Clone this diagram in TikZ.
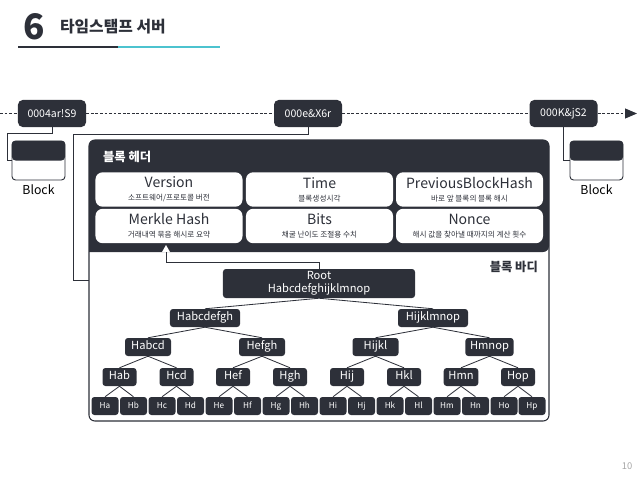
\documentclass[tikz,border=0pt]{standalone}
\usepackage{fontspec}
\setmainfont{Noto Sans CJK KR}
\usetikzlibrary{arrows.meta}
\definecolor{slate}{HTML}{2D3039}
\definecolor{tealline}{HTML}{4CC3CF}
\newcommand{\fsz}[2]{\fontsize{#1}{#2}\selectfont}

\begin{document}
\begin{tikzpicture}[x=0.03cm, y=-0.03cm,
  hashbox/.style={fill=slate, text=white, rounded corners=4pt, minimum width=2.04cm, minimum height=0.81cm, inner sep=0pt, font=\fsz{9}{11}},
  chain/.style={slate, line width=0.8pt, dash pattern=on 2.4pt off 1.5pt},
  link/.style={slate, line width=0.8pt},
  blockicon/.style={draw=slate, line width=0.8pt, fill=white, rounded corners=3pt, minimum width=1.59cm, minimum height=1.17cm, inner sep=0pt,
    path picture={\fill[slate] (path picture bounding box.north west) rectangle (path picture bounding box.east);}},
  cell/.style={fill=white, text=slate, rounded corners=6pt, minimum width=4.41cm, minimum height=1.03cm, inner sep=0pt, align=center, font=\fsz{6.5}{11}},
  tnode/.style={fill=slate, text=white, rounded corners=2.5pt, minimum height=0.54cm, inner xsep=4pt, inner ysep=0pt, text height=7pt, text depth=2pt, font=\fsz{9.5}{11}},
  leaf/.style={tnode, minimum width=0.81cm, inner xsep=1pt, text height=5pt, text depth=1.5pt, font=\fsz{7}{8}},
  branch/.style={slate, line width=0.7pt}]
  \useasboundingbox (0,0) rectangle (638,479);

  % Title
  \node[font=\bfseries\fsz{30}{30}, text=slate] (num) at (34,27) {6};
  \node[anchor=west, font=\bfseries\fsz{13.5}{15}, text=slate] (title) at (56,27) {타임스탬프 서버};
  \draw[slate, line width=2.5pt] (18,47) -- (118,47);
  \draw[tealline, line width=2.5pt] (118,47) -- (220,47);

  % Hash chain
  \coordinate (cstart) at (0,113.5);
  \coordinate (cend) at (637,113.5);
  \node[hashbox] (h1) at (52,113.5) {0004ar!S9};
  \node[hashbox] (h2) at (308,113.5) {000e\&X6r};
  \node[hashbox] (h3) at (563.5,113.5) {000K\&jS2};
  \draw[chain] (cstart) -- (h1) (h1) -- (h2) (h2) -- (h3);
  \draw[chain, -{Triangle[length=0.36cm, width=0.3cm]}] (h3) -- (cend);

  % Side blocks
  \node[blockicon] (blk1) at (38.5,160.5) {};
  \node[font=\fsz{10.5}{12}, text=black] (blk1lab) at (38.5,190) {Block};
  \node[blockicon] (blk3) at (596.5,160.5) {};
  \node[font=\fsz{10.5}{12}, text=black] (blk3lab) at (596.5,190) {Block};
  \draw[link] (h1.south) |- (7,133) |- (blk1.west);
  \draw[link] (h3.south) |- (blk3.west);

  % Block box: header + body
  \draw[slate, line width=0.9pt, rounded corners=5pt] (89,140) rectangle (549,421);
  \fill[slate] (89,252) [rounded corners=5pt] |- (549,140) -- (549,252) [sharp corners] -- cycle;
  \node[anchor=west, font=\bfseries\fsz{10.5}{12}, text=white] (headlab) at (99,157) {블록 헤더};
  \node[anchor=east, font=\bfseries\fsz{10.5}{12}, text=slate] (bodylab) at (542,267) {블록 바디};
  \coordinate (bodyin) at (89,280);
  \draw[link] (h2.south) |- (73,134) |- (bodyin);

  % Header fields
  \node[cell] (ver) at (169,189.5) {{\fsz{12}{11}Version}\\소프트웨어/프로토콜 버전};
  \node[cell] (time) at (319.5,189.5) {{\fsz{12}{11}Time}\\블록생성시각};
  \node[cell] (prev) at (469.5,189.5) {{\fsz{12}{11}PreviousBlockHash}\\바로 앞 블록의 블록 해시};
  \node[cell] (merkle) at (169,226) {{\fsz{12}{11}Merkle Hash}\\거래내역 묶음 해시로 요약};
  \node[cell] (bits) at (319.5,226) {{\fsz{12}{11}Bits}\\채굴 난이도 조절용 수치};
  \node[cell] (nonce) at (469.5,226) {{\fsz{12}{11}Nonce}\\해시 값을 찾아낼 때까지의 계산 횟수};
  \fill[white] (162,252) -- (166,245) -- (170,252) -- cycle; % notch
  \coordinate (notch) at (166,252);

  % Merkle tree
  \node[tnode, minimum width=5.76cm, minimum height=0.87cm, align=center, text height=, text depth=] (root) at (319,283.5) {Root\\Habcdefghijklmnop};
  \draw[link] (notch) -- ++(0,10) -| (root.north);

  \node[tnode, minimum width=2.1cm] (habcdefgh) at (205,318) {Habcdefgh};
  \node[tnode, minimum width=2.1cm] (hijklmnop) at (433,318) {Hijklmnop};

  \node[tnode, minimum width=1.38cm] (habcd) at (148,347) {Habcd};
  \node[tnode, minimum width=1.38cm] (hefgh) at (262,347) {Hefgh};
  \node[tnode, minimum width=1.38cm] (hijkl) at (375.5,347) {Hijkl};
  \node[tnode, minimum width=1.38cm] (hmnop) at (489.5,347) {Hmnop};

  \node[tnode, minimum width=1.02cm] (hab) at (119.5,377) {Hab};
  \node[tnode, minimum width=1.02cm] (hcd) at (176.5,377) {Hcd};
  \node[tnode, minimum width=1.02cm] (hef) at (233,377) {Hef};
  \node[tnode, minimum width=1.02cm] (hgh) at (290,377) {Hgh};
  \node[tnode, minimum width=1.02cm] (hij) at (347,377) {Hij};
  \node[tnode, minimum width=1.02cm] (hkl) at (404,377) {Hkl};
  \node[tnode, minimum width=1.02cm] (hmn) at (461,377) {Hmn};
  \node[tnode, minimum width=1.02cm] (hop) at (518,377) {Hop};

  \node[leaf] (ha) at (105,406) {Ha};
  \node[leaf] (hb) at (133.5,406) {Hb};
  \node[leaf] (hc) at (162,406) {Hc};
  \node[leaf] (hd) at (190.5,406) {Hd};
  \node[leaf] (he) at (219,406) {He};
  \node[leaf] (hf) at (247.5,406) {Hf};
  \node[leaf] (hg) at (276,406) {Hg};
  \node[leaf] (hh) at (304.5,406) {Hh};
  \node[leaf] (hi) at (333,406) {Hi};
  \node[leaf] (hj) at (361.5,406) {Hj};
  \node[leaf] (hk) at (390,406) {Hk};
  \node[leaf] (hl) at (418.5,406) {Hl};
  \node[leaf] (hm) at (447,406) {Hm};
  \node[leaf] (hn) at (475.5,406) {Hn};
  \node[leaf] (ho) at (504,406) {Ho};
  \node[leaf] (hp) at (532,406) {Hp};

  \draw[branch] (root.south) -- (habcdefgh.north) (root.south) -- (hijklmnop.north);
  \draw[branch] (habcdefgh.south) -- (habcd.north) (habcdefgh.south) -- (hefgh.north);
  \draw[branch] (hijklmnop.south) -- (hijkl.north) (hijklmnop.south) -- (hmnop.north);
  \draw[branch] (habcd.south) -- (hab.north) (habcd.south) -- (hcd.north);
  \draw[branch] (hefgh.south) -- (hef.north) (hefgh.south) -- (hgh.north);
  \draw[branch] (hijkl.south) -- (hij.north) (hijkl.south) -- (hkl.north);
  \draw[branch] (hmnop.south) -- (hmn.north) (hmnop.south) -- (hop.north);
  \draw[branch] (hab.south) -- (ha.north) (hab.south) -- (hb.north);
  \draw[branch] (hcd.south) -- (hc.north) (hcd.south) -- (hd.north);
  \draw[branch] (hef.south) -- (he.north) (hef.south) -- (hf.north);
  \draw[branch] (hgh.south) -- (hg.north) (hgh.south) -- (hh.north);
  \draw[branch] (hij.south) -- (hi.north) (hij.south) -- (hj.north);
  \draw[branch] (hkl.south) -- (hk.north) (hkl.south) -- (hl.north);
  \draw[branch] (hmn.south) -- (hm.north) (hmn.south) -- (hn.north);
  \draw[branch] (hop.south) -- (ho.north) (hop.south) -- (hp.north);

  % Page number
  \node[font=\fsz{8}{9}, text=black!35] (page) at (627,466) {10};
\end{tikzpicture}
\end{document}
